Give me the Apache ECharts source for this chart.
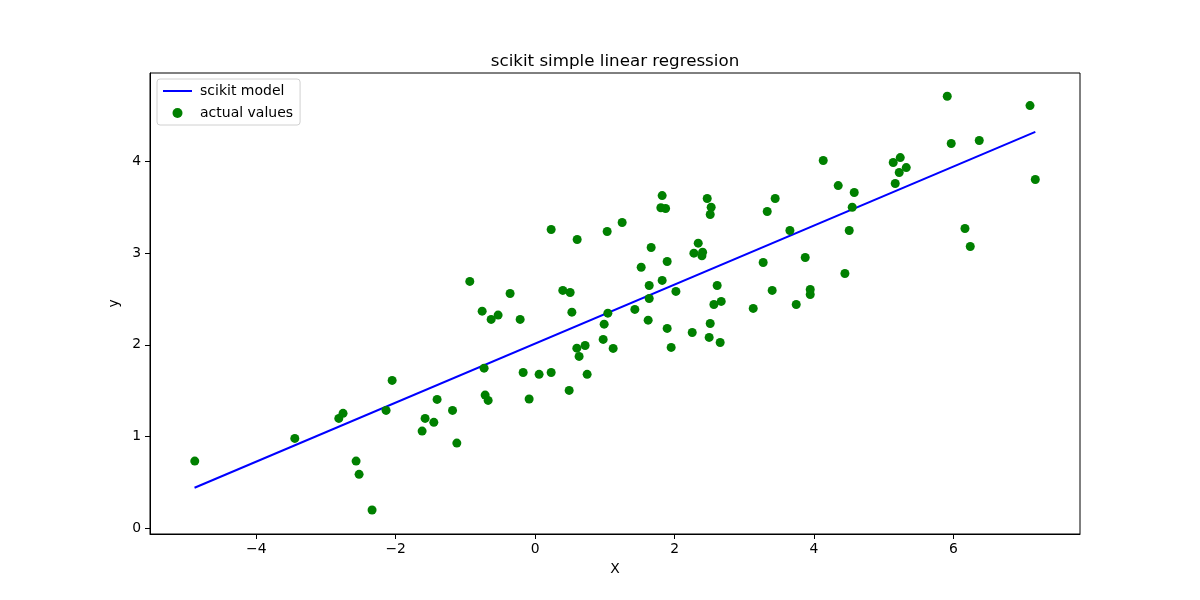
<!DOCTYPE html>
<html>
<head>
<meta charset="utf-8">
<script src="https://cdn.jsdelivr.net/npm/echarts@6/dist/echarts.min.js"></script>
<style>
html,body{margin:0;padding:0;background:#fff;}
#main{width:1200px;height:600px;}
</style>
</head>
<body>
<div id="main"></div>
<script>
// scatter points (X, y)
var actualX = [
	-4.882,-3.447,-2.816,-2.755,-2.051,-2.138,-2.568,-2.525,-2.339,-1.578,
	-1.406,-1.453,-1.621,-1.185,-1.123,-0.937,-0.760,-0.631,-0.531,-0.359,
	-0.215,-0.732,-0.717,-0.674,-0.172,-0.086,0.057,0.230,0.488,0.397,
	0.502,0.527,0.598,0.717,0.631,0.746,0.976,1.119,0.990,1.043,
	1.430,1.621,1.636,1.636,1.822,1.894,1.951,2.019,1.521,1.894,
	0.230,0.603,1.033,1.248,1.822,1.803,1.871,2.468,2.525,2.511,
	3.329,3.443,1.664,2.339,2.277,2.402,2.392,3.271,3.400,2.611,
	2.564,2.669,3.128,2.253,2.511,2.496,2.654,5.911,7.098,5.968,
	6.370,7.174,4.132,5.136,5.237,5.323,5.222,5.165,4.347,4.577,
	4.548,4.505,3.654,3.874,6.165,6.241,4.443,3.946,3.946,3.745
];
var actualY = [
	0.733,0.980,1.198,1.253,1.612,1.285,0.733,0.588,0.199,1.198,
	1.405,1.155,1.060,1.285,0.929,2.691,2.367,2.277,2.324,2.560,
	2.277,1.746,1.452,1.394,1.699,1.409,1.678,1.699,1.503,2.593,
	2.571,2.356,1.964,1.993,1.874,1.678,2.059,1.961,2.225,2.345,
	2.386,2.269,2.505,2.647,2.702,2.179,1.972,2.582,2.846,2.908,
	3.257,3.148,3.235,3.333,3.627,3.494,3.486,3.595,3.500,3.420,
	3.453,3.595,3.061,3.108,2.999,3.010,2.970,2.898,2.593,2.647,
	2.440,2.473,2.397,2.135,2.233,2.081,2.026,4.709,4.608,4.194,
	4.227,3.802,4.009,3.987,4.041,3.932,3.878,3.758,3.736,3.660,
	3.500,3.246,3.246,2.952,3.268,3.072,2.778,2.603,2.549,2.440
];
// model line end points
var modelX = [-4.885, 7.174];
var modelY = [0.442, 4.322];
var xTicks = [-4, -2, 0, 2, 4, 6];
var yTicks = [0, 1, 2, 3, 4];

var scatterData = [];
for (var i = 0; i < actualX.length; i++) {
	scatterData.push([actualX[i], actualY[i]]);
}
var lineData = [];
for (var j = 0; j < modelX.length; j++) {
	lineData.push([modelX[j], modelY[j]]);
}

function minusSign(v) {
	return String(v).replace('-', '\u2212');
}

var font = 'DejaVu Sans';
var chart = echarts.init(document.getElementById('main'), null, {renderer: 'canvas'});
var option = {
	backgroundColor: '#fff',
	animation: false,
	title: {
		text: 'scikit simple linear regression',
		left: 610,
		top: 48,
		textAlign: 'center',
		textStyle: {fontFamily: font, fontSize: 16.7, fontWeight: 'normal', color: '#000'}
	},
	legend: {
		orient: 'vertical',
		left: 157,
		top: 79,
		padding: [5, 7, 5, 5],
		itemGap: 8,
		itemWidth: 29,
		itemHeight: 10,
		borderColor: '#d0d0d0',
		borderWidth: 1,
		borderRadius: 3,
		textStyle: {fontFamily: font, fontSize: 14, color: '#000', padding: [0, 0, 0, 3]},
		data: [
			{name: 'scikit model', itemStyle: {opacity: 0}},
			{name: 'actual values', icon: 'circle'}
		]
	},
	grid: {
		left: 150,
		right: 120,
		top: 73,
		bottom: 66,
		show: true,
		borderColor: '#000',
		borderWidth: 1
	},
	xAxis: {
		type: 'value',
		min: -5.524,
		max: 7.815,
		name: 'X',
		nameLocation: 'middle',
		nameGap: 28,
		nameTextStyle: {fontFamily: font, fontSize: 13.9, color: '#000'},
		splitLine: {show: false},
		axisLine: {onZero: false, lineStyle: {color: '#000', width: 1}},
		axisTick: {show: true, length: 5, customValues: xTicks, lineStyle: {color: '#000'}},
		axisLabel: {
			customValues: xTicks,
			margin: 8,
			fontFamily: font, fontSize: 13.9, color: '#000',
			formatter: minusSign
		}
	},
	yAxis: {
		type: 'value',
		min: -0.062,
		max: 4.963,
		name: 'y',
		nameLocation: 'middle',
		nameGap: 25,
		nameRotate: 90,
		nameTextStyle: {fontFamily: font, fontSize: 13.9, color: '#000'},
		splitLine: {show: false},
		axisLine: {show: true, onZero: false, lineStyle: {color: '#000', width: 1}},
		axisTick: {show: true, length: 5, customValues: yTicks, lineStyle: {color: '#000'}},
		axisLabel: {
			customValues: yTicks,
			margin: 9,
			fontFamily: font, fontSize: 13.9, color: '#000',
			formatter: minusSign
		}
	},
	series: [
		{
			name: 'scikit model',
			type: 'line',
			symbol: 'none',
			data: lineData,
			lineStyle: {color: '#0000ff', width: 2},
			itemStyle: {color: '#0000ff'},
			z: 2
		},
		{
			name: 'actual values',
			type: 'scatter',
			symbolSize: 9,
			data: scatterData,
			itemStyle: {color: '#008000', opacity: 1},
			z: 3
		}
	]
};
chart.setOption(option);
</script>
</body>
</html>
